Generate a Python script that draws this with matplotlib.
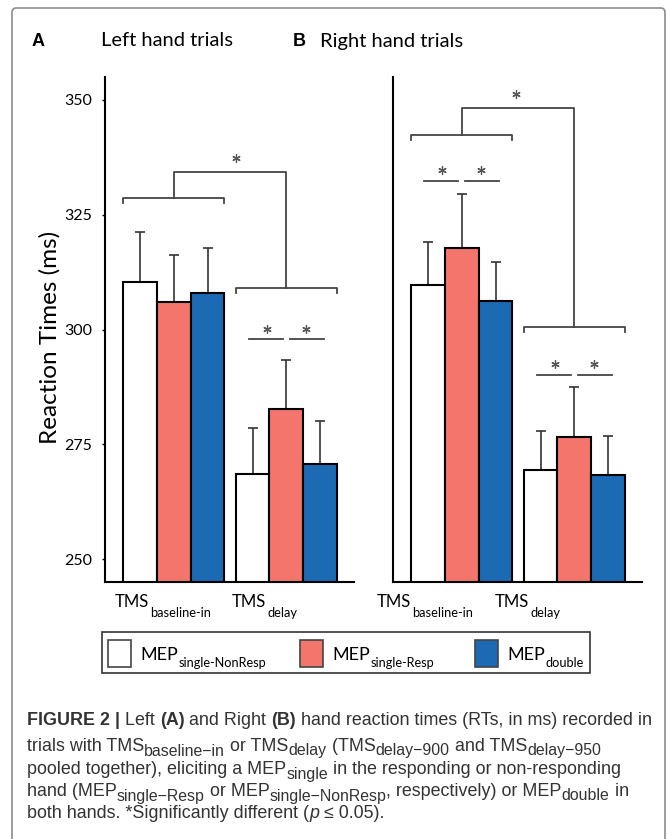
import numpy as np
import matplotlib
matplotlib.use("Agg")
import matplotlib.pyplot as plt
from matplotlib.patches import Rectangle, FancyBboxPatch

# values (ms)
conditions = ["baseline-in", "delay"]
series = ["single-NonResp", "single-Resp", "double"]
colors = ["#ffffff", "#f3756b", "#1c6ab4"]

left_means = np.array([[310.3, 305.9, 307.9],
                       [268.5, 282.7, 270.8]])
left_err = np.array([[10.9, 10.3, 9.8],
                     [10.0, 10.7, 9.3]])
right_means = np.array([[309.7, 317.7, 306.1],
                        [269.5, 276.6, 268.3]])
right_err = np.array([[9.4, 11.8, 8.5],
                      [8.4, 10.9, 8.5]])

# significance annotations (ms levels)
left_brackets = [328.7, 309.0]
left_link = 334.4
left_pairs = [None, 297.9]
right_brackets = [342.4, 300.6]
right_link = 348.2
right_pairs = [332.4, 290.1]

W, H = 667, 839
CF = "Lato"
CAP = "Liberation Sans"

fig = plt.figure(figsize=(W / 100, H / 100), dpi=100)
renderer = fig.canvas.get_renderer()


def fx(px):
    return px / W


def fy(py):
    return 1 - py / H


def sub_text(x, y, main, sub, size, subsize, drop, **kw):
    t = fig.text(fx(x), fy(y), main, fontsize=size, ha="left", va="baseline",
                 family=CF, **kw)
    bb = t.get_window_extent(renderer)
    fig.text((bb.x1 + 1) / W, fy(y + drop), sub, fontsize=subsize, ha="left",
             va="baseline", family=CF, **kw)


def star(ax, x, y):
    ax.plot([x], [y], marker=(6, 2, 0), ms=6, mew=0.9, color="#555555",
            linestyle="none")


def panel(left_px, means, err, brackets, link, pairs, star_x, show_y):
    ax = fig.add_axes([fx(left_px), fy(582), 249 / W, 505 / H])
    offs = np.array([-0.3, 0.0, 0.3])
    for g in range(len(conditions)):
        xs = g + offs
        ax.errorbar(xs, means[g], yerr=[np.zeros(3), err[g]], fmt="none",
                    ecolor="#333333", elinewidth=1.2, capsize=3.5, capthick=1.2,
                    zorder=1)
        ax.bar(xs, means[g], width=0.3, color=colors, edgecolor="black",
               linewidth=1.5, zorder=2)
    ax.set_xlim(-0.61, 1.60)
    ax.set_ylim(245, 355)
    lc = "#444444"
    tick = 1.1
    for g, yb in enumerate(brackets):
        ax.plot([g - 0.45, g - 0.45, g + 0.45, g + 0.45],
                [yb - tick, yb, yb, yb - tick], color=lc, lw=1.3)
    ax.plot([0, 0, 1, 1], [brackets[0], link, link, brackets[1]], color=lc, lw=1.3)
    star(ax, star_x, link + 3.0)
    for g, yp in enumerate(pairs):
        if yp is None:
            continue
        for a, b, s in [(-0.335, -0.03, -0.175), (0.03, 0.335, 0.17)]:
            ax.plot([g + a, g + b], [yp, yp], color=lc, lw=1.3)
            star(ax, g + s, yp + 2.3)
    for s in ["top", "right"]:
        ax.spines[s].set_visible(False)
    for s in ["left", "bottom"]:
        ax.spines[s].set_linewidth(1.5)
    ax.set_xticks([])
    if show_y:
        ax.set_yticks([250, 275, 300, 325, 350])
        ax.tick_params(axis="y", length=2.5, width=1, pad=7, labelsize=11.5)
        for lab in ax.get_yticklabels():
            lab.set_family(CF)
    else:
        ax.set_yticks([])
    return ax


panel(105, left_means, left_err, left_brackets, left_link, left_pairs, 0.55, True)
panel(393, right_means, right_err, right_brackets, right_link, right_pairs, 0.48, False)

# panel titles
fig.text(fx(38), fy(41), "A", fontsize=13, weight="bold", ha="center", va="center",
         family=CAP)
fig.text(fx(167), fy(41), "Left hand trials", fontsize=14.5, ha="center", va="center",
         family=CF)
fig.text(fx(299), fy(41), "B", fontsize=13, weight="bold", ha="center", va="center",
         family=CAP)
fig.text(fx(392), fy(41), "Right hand trials", fontsize=14.5, ha="center", va="center",
         family=CF)
fig.text(fx(50), fy(337), "Reaction Times (ms)", fontsize=17.5, rotation=90,
         ha="center", va="center", family=CF)

# group labels
for x0 in [115, 377]:
    sub_text(x0, 607, "TMS", "baseline-in", 12, 9.3, 10)
for x0 in [232, 495]:
    sub_text(x0, 607, "TMS", "delay", 12, 9.3, 10)

# legend
fig.add_artist(Rectangle((fx(102), fy(673)), 488 / W, 41 / H, transform=fig.transFigure,
                         facecolor="none", edgecolor="#333333", lw=1.2))
for px, c, name in zip([108, 300, 475], colors, series):
    fig.add_artist(Rectangle((fx(px), fy(667)), 23 / W, 27 / H, transform=fig.transFigure,
                             facecolor=c, edgecolor="#444444", lw=1.2))
    sub_text(px + 32, 660, "MEP", name, 13, 9.2, 7)

# outer frame
fig.add_artist(FancyBboxPatch((fx(12), fy(900)), 653 / W, 892 / H,
                              boxstyle="round,pad=0,rounding_size=0.006",
                              transform=fig.transFigure, facecolor="none",
                              edgecolor="#8c8c8c", lw=1.2, clip_on=False))

# caption, laid out piece by piece (n normal, b bold, s subscript, i italic)
caption = [
    [("FIGURE 2 |", "b"), (" Left ", "n"), ("(A)", "b"), (" and Right ", "n"),
     ("(B)", "b"), (" hand reaction times (RTs, in ms) recorded in", "n")],
    [("trials with TMS", "n"), ("baseline\u2212in", "s"), (" or TMS", "n"),
     ("delay", "s"), (" (TMS", "n"), ("delay\u2212900", "s"), (" and TMS", "n"),
     ("delay\u2212950", "s")],
    [("pooled together), eliciting a MEP", "n"), ("single", "s"),
     (" in the responding or non-responding", "n")],
    [("hand (MEP", "n"), ("single\u2212Resp", "s"), (" or MEP", "n"),
     ("single\u2212NonResp", "s"), (", respectively) or MEP", "n"), ("double", "s"),
     (" in", "n")],
    [("both hands. *Significantly different (", "n"), ("p", "i"),
     (" \u2264 0.05).", "n")],
]
cap_size = 12.85
bar = fig.text(0, 0, "|", fontsize=cap_size, family=CAP)
for line, yb in zip(caption, [725, 751, 774, 796, 818]):
    x = 27
    for txt, kind in line:
        kw = dict(family=CAP, color="#333333", ha="left", va="baseline")
        size = cap_size
        y = yb
        if kind == "b":
            kw["weight"] = "bold"
        elif kind == "i":
            kw["style"] = "italic"
        elif kind == "s":
            size = cap_size * 0.89
            y = yb + 4.5
        t = fig.text(fx(x), fy(y), txt, fontsize=size, **kw)
        probe = fig.text(0, 0, txt + "|", fontsize=size, **kw)
        bar.set_fontsize(size)
        bar.set_fontweight(kw.get("weight", "normal"))
        bar.set_fontstyle(kw.get("style", "normal"))
        adv = probe.get_window_extent(renderer).width - bar.get_window_extent(renderer).width
        probe.remove()
        x += adv
bar.remove()

fig.savefig("out.png", dpi=100)
